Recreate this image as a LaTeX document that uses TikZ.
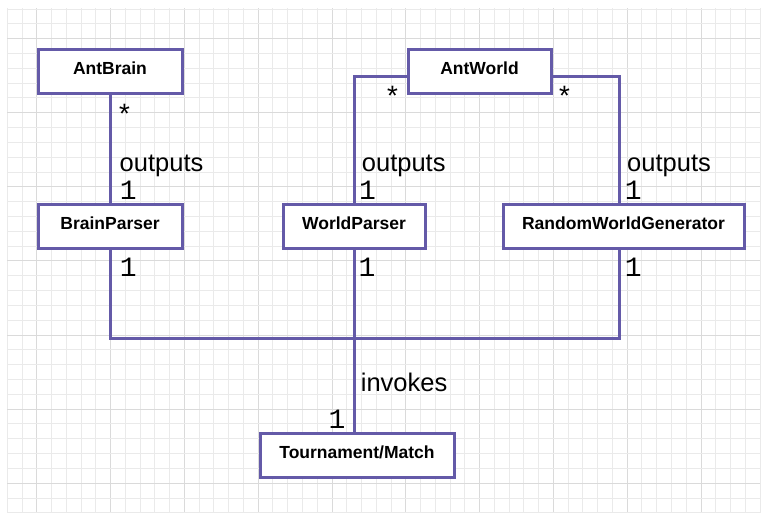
\documentclass[tikz,border=0pt]{standalone}
\usepackage{fontspec}
\setmainfont{Liberation Sans}
\newfontfamily\multfont{Liberation Mono}
\definecolor{umlline}{RGB}{100,90,168}
\definecolor{gridminor}{RGB}{234,234,234}
\definecolor{gridmajor}{RGB}{218,218,218}
\tikzset{
  cls/.style={draw=umlline,line width=3pt,fill=white,inner sep=0pt,
    font=\bfseries\fontsize{17.5}{20}\selectfont,
    text height=13pt,text depth=6pt,minimum height=44pt},
  assoc/.style={umlline,line width=3pt},
  lbl/.style={font=\fontsize{25.5}{28}\selectfont,anchor=base west,inner sep=0pt,
    text depth=4pt},
  mult/.style={font=\multfont\fontsize{28}{30}\selectfont,anchor=base west,inner sep=0pt,
    text height=17pt,text depth=0pt}
}
\begin{document}
\begin{tikzpicture}[x=1pt,y=-1pt]
\useasboundingbox[fill=white] (0,0) rectangle (764,514);
% Raster
\foreach \i in {0,...,51}{
  \pgfmathsetmacro\gx{7.3+14.76*\i}
  \pgfmathtruncatemacro\gm{mod(\i,5)}
  \ifnum\gm=2 \draw[gridmajor,line width=1pt] (\gx,8)--(\gx,513);
  \else \draw[gridminor,line width=1pt] (\gx,8)--(\gx,513); \fi
}
\foreach \j in {0,...,34}{
  \pgfmathsetmacro\gy{9+14.82*\j}
  \pgfmathtruncatemacro\gm{mod(\j,5)}
  \ifnum\gm=2 \draw[gridmajor,line width=1pt] (7,\gy)--(760,\gy);
  \else \draw[gridminor,line width=1pt] (7,\gy)--(760,\gy); \fi
}
% Klassen
\node[cls,minimum width=144pt] (brain) at (110,71) {AntBrain};
\node[cls,minimum width=143pt] (world) at (479.5,71) {AntWorld};
\node[cls,minimum width=144pt] (bparser) at (110,226) {BrainParser};
\node[cls,minimum width=142pt] (wparser) at (354,226) {WorldParser};
\node[cls,minimum width=241pt] (rwg) at (623.5,226) {RandomWorldGenerator};
\node[cls,minimum width=194pt] (match) at (357,455) {Tournament/Match};
% Assoziationen
\coordinate (bus) at (354,338);
\draw[assoc] (brain.south) -- (bparser.north);
\draw[assoc] ([yshift=-5pt]world.west) -| (wparser.north);
\draw[assoc] ([yshift=-5pt]world.east) -| ([xshift=-4pt]rwg.north);
\draw[assoc] (bparser.south) |- (bus) -| ([xshift=-4pt]rwg.south);
\draw[assoc] (wparser.south) -- (wparser.south |- match.north);
% Beschriftungen
\node[mult] (mbrain) at (116,124) {*};
\node[mult] (mworldl) at (384,106) {*};
\node[mult] (mworldr) at (556,106) {*};
\node[lbl] (obrain) at (119.5,171.5) {outputs};
\node[lbl] (oworld) at (361.7,171.5) {outputs};
\node[lbl] (orwg) at (627,171.5) {outputs};
\node[mult] (nbrain) at (119.6,199) {1};
\node[mult] (nworld) at (359,199) {1};
\node[mult] (nrwg) at (624.6,199) {1};
\node[mult] (ubparser) at (119.6,276) {1};
\node[mult] (uwparser) at (358.3,276) {1};
\node[mult] (urwg) at (624.6,276) {1};
\node[lbl] (inv) at (360.7,391.7) {invokes};
\node[mult] (nmatch) at (328.3,428) {1};
\end{tikzpicture}
\end{document}
